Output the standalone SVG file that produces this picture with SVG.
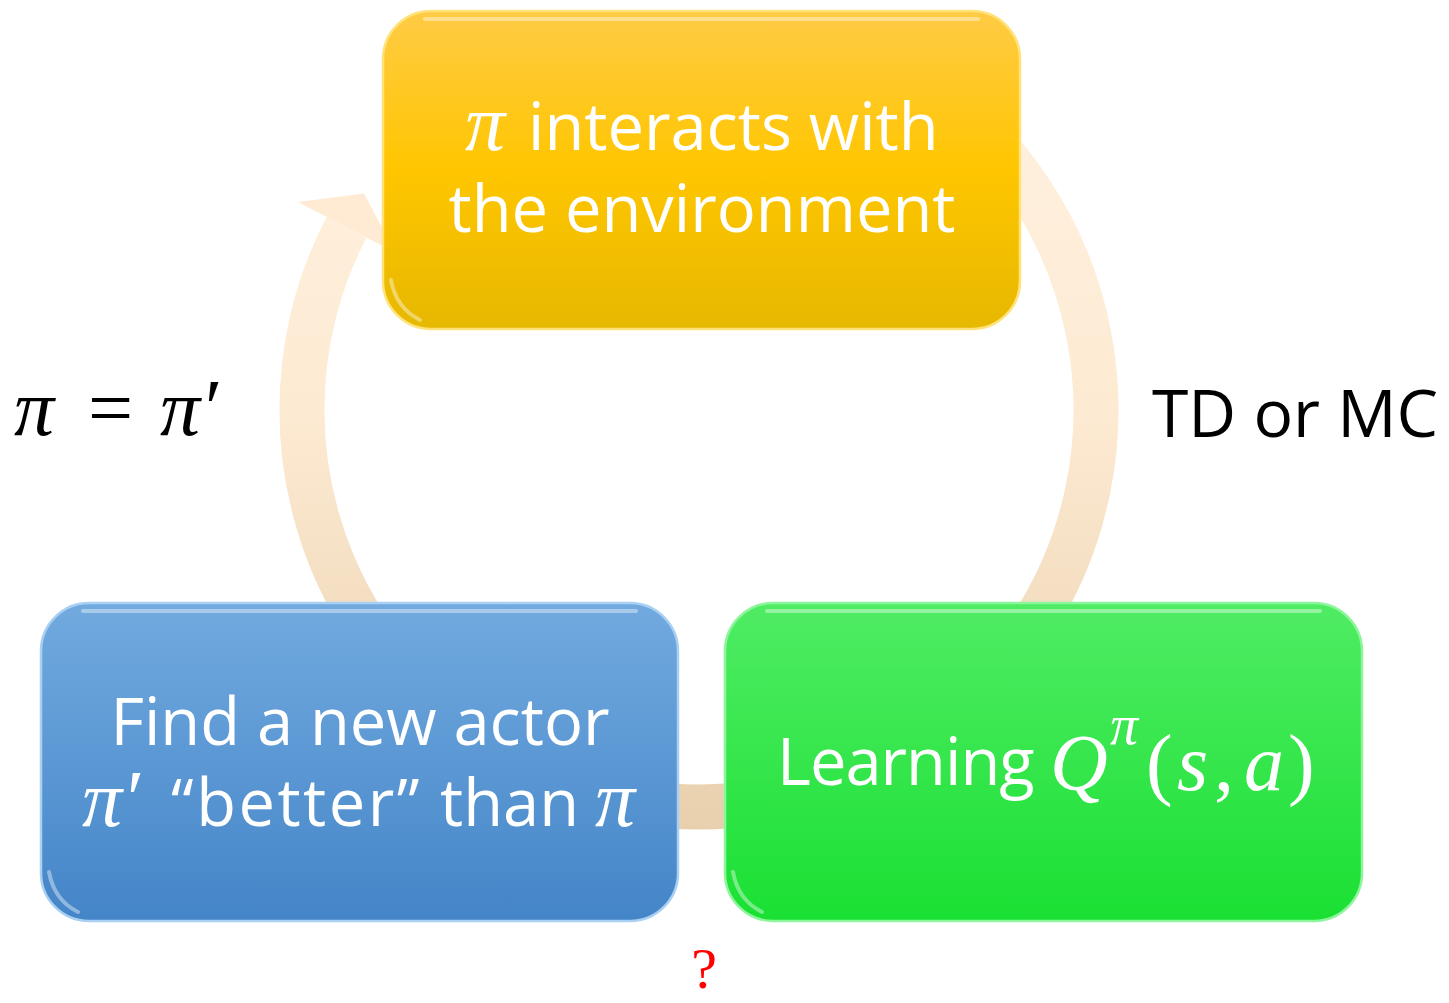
<svg xmlns="http://www.w3.org/2000/svg" width="1449" height="1003" viewBox="0 0 1449 1003">
<style>
.t{font-family:"Open Sans","Liberation Sans",sans-serif;font-size:65px;fill:#fff}
.m{font-family:"Liberation Serif","DejaVu Serif",serif;font-style:italic;font-size:80px}
.mu{font-family:"Liberation Serif","DejaVu Serif",serif;font-style:normal;font-size:80px}
.lbl{font-family:"Open Sans","Liberation Sans",sans-serif;font-size:66px;fill:#000}
.gl{fill:none;stroke:#fff;stroke-opacity:0.4;stroke-width:4;stroke-linecap:round}
</style>
<defs>
<linearGradient id="ringG" gradientUnits="userSpaceOnUse" x1="0" y1="0" x2="0" y2="830">
<stop offset="0" stop-color="#FFF3E4"/><stop offset="0.5" stop-color="#FDEAD2"/><stop offset="1" stop-color="#E8D0AE"/>
</linearGradient>
<linearGradient id="yG" x1="0" y1="0" x2="0" y2="1">
<stop offset="0" stop-color="#FFCB45"/><stop offset="0.5" stop-color="#FFC600"/><stop offset="1" stop-color="#E6B800"/>
</linearGradient>
<linearGradient id="bG" x1="0" y1="0" x2="0" y2="1">
<stop offset="0" stop-color="#72AADF"/><stop offset="1" stop-color="#4485C8"/>
</linearGradient>
<linearGradient id="gG" x1="0" y1="0" x2="0" y2="1">
<stop offset="0" stop-color="#50EC64"/><stop offset="1" stop-color="#1AE033"/>
</linearGradient>
</defs>
<g id="connectors">
<path d="M 926.7 84.8 A 397 397 0 1 1 346.5 227.3" fill="none" stroke="url(#ringG)" stroke-width="45"/>
<polygon points="297.7,202 364,193.6 395.3,252.6" fill="#FFEBD4"/>
</g>
<g id="node-interact">
<rect x="383" y="11" width="637" height="318" rx="48" fill="url(#yG)" stroke="#FFE27A" stroke-width="2.5"/>
<path class="gl" d="M 425 19 L 978 19"/>
<path class="gl" d="M 391 280 Q 396 308 420 320"/>
<text class="t" x="528" y="150">interacts with</text>
<text class="m" x="465" y="150" fill="#fff">π</text>
<text class="t" x="702" y="232" text-anchor="middle">the environment</text>
</g>
<g id="node-find">
<rect x="41" y="603" width="637" height="318" rx="48" fill="url(#bG)" stroke="#A9D0F2" stroke-width="2.5"/>
<path class="gl" d="M 83 611 L 636 611"/>
<path class="gl" d="M 49 872 Q 54 900 78 912"/>
<text class="t" x="360" y="745" text-anchor="middle">Find a new actor</text>
<text class="m" x="82" y="826" fill="#fff">π′</text>
<text class="t" x="171" y="826" letter-spacing="2.5">“better”</text>
<text class="t" x="440" y="826">than</text>
<text class="m" x="595" y="826" fill="#fff">π</text>
</g>
<g id="node-learn">
<rect x="725" y="603" width="637" height="318" rx="48" fill="url(#gG)" stroke="#8DF59B" stroke-width="2.5"/>
<path class="gl" d="M 767 611 L 1320 611"/>
<path class="gl" d="M 733 872 Q 738 900 762 912"/>
<text class="t" x="777" y="785" letter-spacing="-1">Learning</text>
<text fill="#fff"><tspan class="m" x="1050" y="790">Q</tspan><tspan class="m" x="1110" y="744" style="font-size:56px">π</tspan><tspan class="mu" x="1146" y="790">(</tspan><tspan class="m" x="1177" y="790">s</tspan><tspan class="mu" x="1214" y="790">,</tspan><tspan class="m" x="1244" y="790">a</tspan><tspan class="mu" x="1288" y="790">)</tspan></text>
</g>
<g id="labels">
<text class="m" x="14" y="435" fill="#000">π</text>
<text class="mu" x="88" y="435" fill="#000">=</text>
<text class="m" x="160" y="435" fill="#000">π′</text>
<text class="lbl" x="1152" y="437">TD or MC</text>
<text x="704" y="988" text-anchor="middle" font-family="Liberation Serif, serif" font-size="58" fill="#FF0000">?</text>
</g>
</svg>
